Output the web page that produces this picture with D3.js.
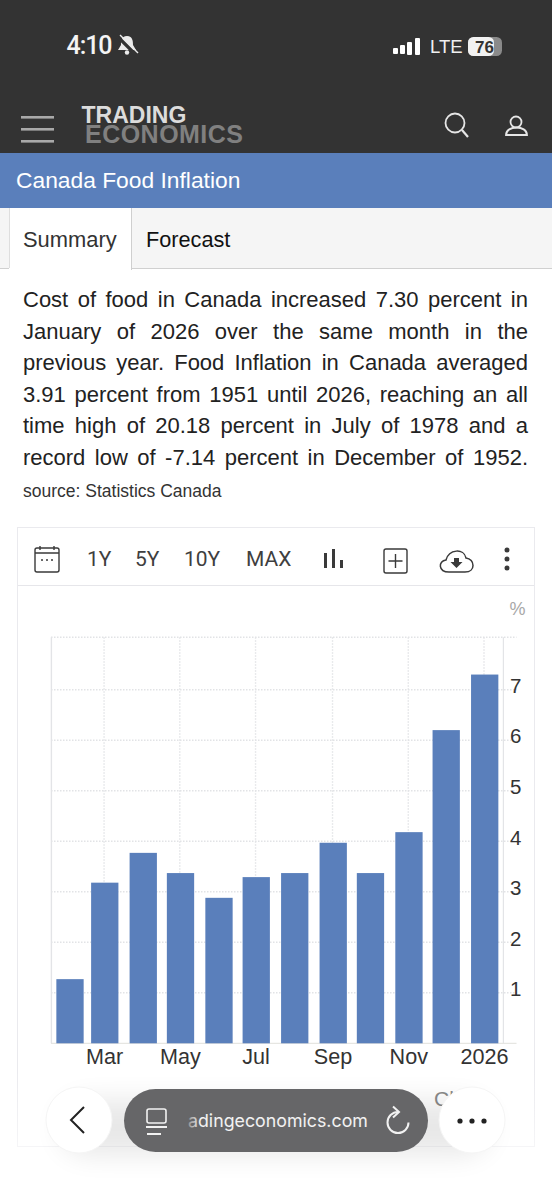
<!DOCTYPE html>
<html>
<head>
<meta charset="utf-8">
<script src="https://cdn.jsdelivr.net/npm/d3@7"></script>
<style>
html, body { margin: 0; padding: 0; background: #fff; width: 552px; height: 1200px; overflow: hidden; }
body { position: relative; font-family: "Liberation Sans", Arial, sans-serif; }
svg { position: absolute; left: 0; top: 0; }
.line { position: absolute; left: 23px; width: 505px; font-size: 22px; line-height: 26px; color: #222;
        text-align: justify; text-align-last: justify; white-space: nowrap; }
.axis path, .axis line { display: none; }
</style>
</head>
<body>
<script>
// chart data
const months = ["2025-02-01","2025-03-01","2025-04-01","2025-05-01","2025-06-01","2025-07-01",
                "2025-08-01","2025-09-01","2025-10-01","2025-11-01","2025-12-01","2026-01-01"];
const values = [1.27, 3.18, 3.77, 3.37, 2.88, 3.29, 3.37, 3.97, 3.37, 4.18, 6.2, 7.3];
const yTicks = [1, 2, 3, 4, 5, 6, 7];
const xTickDates = ["2025-03-01","2025-05-01","2025-07-01","2025-09-01","2025-11-01","2026-01-01"];
const xTickLabels = ["Mar","May","Jul","Sep","Nov","2026"];
const paragraph = [
  "Cost of food in Canada increased 7.30 percent in",
  "January of 2026 over the same month in the",
  "previous year. Food Inflation in Canada averaged",
  "3.91 percent from 1951 until 2026, reaching an all",
  "time high of 20.18 percent in July of 1978 and a",
  "record low of -7.14 percent in December of 1952."
];

const barColor = "#5a7fbb";
const svg = d3.select("body").append("svg").attr("width", 552).attr("height", 1200);

function txt(x, y, s, size, fill, weight) {
  return svg.append("text").attr("x", x).attr("y", y).attr("font-size", size)
    .attr("fill", fill).attr("font-weight", weight || 400).text(s);
}
function stroke(d, color, w) {
  return svg.append("path").attr("d", d).attr("fill", "none").attr("stroke", color).attr("stroke-width", w);
}
function rect(x, y, w, h, fill) {
  return svg.append("rect").attr("x", x).attr("y", y).attr("width", w).attr("height", h).attr("fill", fill);
}

// header
rect(0, 0, 552, 153, "#333333");
txt(66.5, 54, "4:10", 25, "#f4f4f4", 500).attr("font-family", "Roboto").attr("textLength", 46);
svg.append("path").attr("d", "M127 36 C121 36 121 42 121 45 L118 50 L136 50 L133 45 C133 42 133 36 127 36 Z").attr("fill", "#ececec");
svg.append("circle").attr("cx", 127).attr("cy", 52.5).attr("r", 2.2).attr("fill", "#ececec");
stroke("M118 37 L136 55", "#333", 3.2);
stroke("M120 35 L138 53", "#ececec", 1.4);
[[393, 48, 6], [400, 45, 9], [407, 42, 13], [415, 38, 17]].forEach(b =>
  svg.append("rect").attr("x", b[0]).attr("y", b[1]).attr("width", 5).attr("height", b[2]).attr("rx", 1).attr("fill", "#fff"));
txt(430, 53, "LTE", 18.5, "#f0f0f0");
svg.append("rect").attr("x", 468).attr("y", 37).attr("width", 34).attr("height", 19).attr("rx", 5.5).attr("fill", "#8a8a8a");
svg.append("rect").attr("x", 468).attr("y", 37).attr("width", 26).attr("height", 19).attr("rx", 5.5).attr("fill", "#f2f2f2");
txt(475, 53, "76", 17, "#333", 700);

[117, 129, 141].forEach(y => rect(21, y - 1, 33, 2.6, "#a9a9a9"));
txt(81.5, 122.5, "TRADING", 23, "#dcdcdc", 700);
txt(85, 143.3, "ECONOMICS", 25, "#808080", 700).attr("textLength", 158);
svg.append("circle").attr("cx", 455).attr("cy", 123).attr("r", 9.5).attr("fill", "none").attr("stroke", "#e6e6e6").attr("stroke-width", 1.8);
stroke("M462 130 L468 137", "#e6e6e6", 2.2);
svg.append("circle").attr("cx", 516).attr("cy", 122).attr("r", 5.5).attr("fill", "none").attr("stroke", "#e6e6e6").attr("stroke-width", 1.8);
stroke("M506 135 C506 125 527 125 527 135 Z", "#e6e6e6", 1.8);

rect(0, 153, 552, 55, barColor);
txt(16, 188, "Canada Food Inflation", 22.8, "#fff");

// tabs
rect(0, 208, 552, 60, "#f5f5f5");
rect(0, 268, 552, 1, "#d0d0d0");
rect(9, 208, 122, 62, "#fff");
rect(9, 208, 1, 60, "#dedede");
rect(131, 208, 1, 62, "#cfcfcf");
txt(23, 247, "Summary", 21.9, "#333");
txt(146, 247, "Forecast", 21.7, "#111");

// paragraph
d3.select("body").selectAll(".line").data(paragraph).enter().append("div")
  .attr("class", "line")
  .style("top", (d, i) => (287 + i * 31.5) + "px")
  .text(d => d);
txt(23, 497, "source: Statistics Canada", 17.5, "#333");

// chart panel
svg.append("rect").attr("x", 17.5).attr("y", 527.5).attr("width", 517).attr("height", 619)
  .attr("fill", "#fff").attr("stroke", "#eaeaee");
rect(18, 585, 516, 1, "#e6e6ea");

// toolbar
const tool = "#3a3a3a";
svg.append("rect").attr("x", 35).attr("y", 548).attr("width", 24).attr("height", 24).attr("rx", 2).attr("fill", "none").attr("stroke", tool).attr("stroke-width", 1.4);
stroke("M35 553 H59 M40 546 V550 M54 546 V550", tool, 1.4);
stroke("M41 560 h2 M46 560 h2 M51 560 h2", tool, 1.6);
[["1Y", 87], ["5Y", 135], ["10Y", 184], ["MAX", 246]].forEach(t =>
  txt(t[1], 566, t[0], 21, "#3f3f3f").attr("font-family", "Roboto"));
stroke("M325.5 568 V553 M333.5 568 V549 M341.5 568 V560", tool, 3);
svg.append("rect").attr("x", 384).attr("y", 549).attr("width", 23).attr("height", 24).attr("rx", 2).attr("fill", "none").attr("stroke", tool).attr("stroke-width", 1.4);
stroke("M395.5 554 V568 M388.5 561 H402.5", tool, 1.4);
stroke("M449 572 C438 572 438 561 446 560 C449 549 464 548 466 558 C475 559 476 572 465 572 Z", tool, 1.5);
svg.append("path").attr("d", "M454 558 h5 v4 h3.5 l-6 6 l-6 -6 h3.5 Z").attr("fill", tool);
[550, 559, 568].forEach(y => svg.append("circle").attr("cx", 507).attr("cy", y).attr("r", 2.5).attr("fill", tool));
txt(509.5, 615, "%", 18, "#a8a8a8");

// scales
const x = d3.scaleUtc()
  .domain([new Date("2025-02-01"), new Date("2026-01-01")])
  .range([70, 484.7]);
const y = d3.scaleLinear().domain([0, 7]).range([1043.3, 689.7]);
const barWidth = 27.3;
const plotTop = 637.3;

// grid
const chart = svg.append("g");
const gridColor = "#e2e3e6";
chart.selectAll(".hgrid").data(yTicks).enter().append("line")
  .attr("x1", 51).attr("x2", 516.5)
  .attr("y1", d => y(d)).attr("y2", d => y(d))
  .attr("stroke", gridColor).attr("stroke-width", 1.4).attr("stroke-dasharray", "1.5 1.5");
chart.append("line").attr("x1", 51).attr("x2", 516.5).attr("y1", plotTop).attr("y2", plotTop)
  .attr("stroke", gridColor).attr("stroke-width", 1.4).attr("stroke-dasharray", "1.5 1.5");
chart.append("line").attr("x1", 51).attr("x2", 516.5).attr("y1", y(0)).attr("y2", y(0))
  .attr("stroke", "#e6e6e2").attr("stroke-width", 1.2);
chart.selectAll(".vgrid").data(xTickDates).enter().append("line")
  .attr("x1", d => x(new Date(d)) - 0.7).attr("x2", d => x(new Date(d)) - 0.7)
  .attr("y1", plotTop).attr("y2", y(0))
  .attr("stroke", gridColor).attr("stroke-width", 1.4).attr("stroke-dasharray", "1.5 1.5");
chart.append("line").attr("x1", 51.4).attr("x2", 51.4).attr("y1", plotTop).attr("y2", y(0)).attr("stroke", "#e3e4e7").attr("stroke-width", 1.4);
chart.append("line").attr("x1", 503.4).attr("x2", 503.4).attr("y1", plotTop).attr("y2", y(0)).attr("stroke", "#e3e4e7").attr("stroke-width", 1.2);

// bars
chart.selectAll(".bar").data(values).enter().append("rect")
  .attr("class", "bar")
  .attr("x", (d, i) => x(new Date(months[i])) - barWidth / 2)
  .attr("width", barWidth)
  .attr("y", d => y(d))
  .attr("height", d => y(0) - y(d))
  .attr("fill", barColor);

// axes
const yAxis = chart.append("g").attr("class", "axis").attr("transform", "translate(503,-3.8)")
  .call(d3.axisRight(y).tickValues(yTicks).tickSize(0).tickPadding(7).tickFormat(d3.format("d")));
yAxis.selectAll("text").attr("font-size", 20.5).attr("font-family", "Liberation Sans").attr("fill", "#333");

const xAxis = chart.append("g").attr("class", "axis").attr("transform", "translate(-0.7,1043.3)")
  .call(d3.axisBottom(x).tickValues(xTickDates.map(d => new Date(d))).tickSize(0).tickPadding(5)
    .tickFormat((d, i) => xTickLabels[i]));
xAxis.selectAll("text").attr("font-size", 21.6).attr("font-family", "Liberation Sans").attr("fill", "#333");

// browser bar over the page
const defs = svg.append("defs");
const blur = defs.append("filter").attr("id", "soft").attr("x", "-30%").attr("y", "-60%").attr("width", "160%").attr("height", "220%");
blur.append("feGaussianBlur").attr("stdDeviation", 14);
const fade = defs.append("linearGradient").attr("id", "fade").attr("x1", 0).attr("x2", 0).attr("y1", 0).attr("y2", 1);
fade.append("stop").attr("offset", 0).attr("stop-color", "#fff").attr("stop-opacity", 0);
fade.append("stop").attr("offset", 1).attr("stop-color", "#fff").attr("stop-opacity", 0.9);
rect(0, 1070, 552, 130, "url(#fade)");
const urlFade = defs.append("linearGradient").attr("id", "urlFade").attr("gradientUnits", "userSpaceOnUse")
  .attr("x1", 186).attr("x2", 200).attr("y1", 0).attr("y2", 0);
urlFade.append("stop").attr("offset", 0).attr("stop-color", "#f2f2f2").attr("stop-opacity", 0.2);
urlFade.append("stop").attr("offset", 1).attr("stop-color", "#f2f2f2").attr("stop-opacity", 1);

txt(434, 1106, "Cl", 21, "#8a8a8a");
svg.append("rect").attr("x", 60).attr("y", 1100).attr("width", 430).attr("height", 55).attr("rx", 27)
  .attr("fill", "#000").attr("opacity", 0.09).attr("filter", "url(#soft)");
[79, 472].forEach(cx => svg.append("circle").attr("cx", cx).attr("cy", 1120).attr("r", 33)
  .attr("fill", "#fff").attr("stroke", "#f5f5f5"));
stroke("M84 1107 L71 1120 L84 1133", "#222", 2);
[460, 472, 484].forEach(cx => svg.append("circle").attr("cx", cx).attr("cy", 1121).attr("r", 2.6).attr("fill", "#222"));

svg.append("rect").attr("x", 124).attr("y", 1089).attr("width", 304).attr("height", 63).attr("rx", 31.5).attr("fill", "#666668");
svg.append("rect").attr("x", 147).attr("y", 1109).attr("width", 19).attr("height", 14).attr("rx", 2).attr("fill", "none").attr("stroke", "#f2f2f2").attr("stroke-width", 1.6);
stroke("M146 1127 H167 M147 1134 H161", "#f2f2f2", 1.8);
txt(188, 1127, "adingeconomics.com", 17.8, "url(#urlFade)").attr("font-family", "Inter");
stroke("M398 1112 A10.5 10.5 0 1 0 408.5 1122.5", "#f2f2f2", 2);
stroke("M393 1106.5 L399 1112 L393 1117.5", "#f2f2f2", 2);
</script>
</body>
</html>
